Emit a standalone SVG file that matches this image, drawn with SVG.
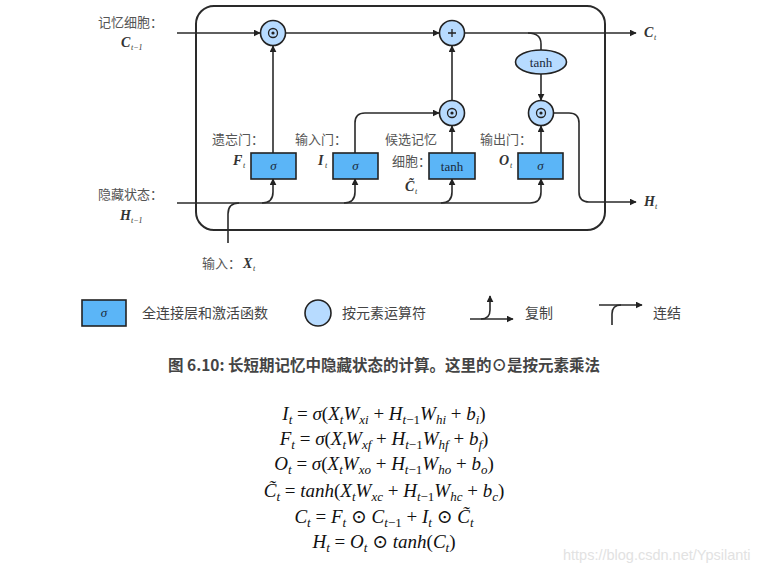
<svg xmlns="http://www.w3.org/2000/svg" width="777" height="573" viewBox="0 0 777 573">
<defs>
<marker id="ar" viewBox="0 0 10 10" refX="9" refY="5" markerWidth="7" markerHeight="7" markerUnits="userSpaceOnUse" orient="auto"><path d="M0,0 L10,5 L0,10 Z" fill="#222"/></marker>
<style>
.ln{fill:none;stroke:#2a2a2a;stroke-width:1.6}
.la{fill:none;stroke:#2a2a2a;stroke-width:1.6;marker-end:url(#ar)}
.box{fill:#5bb5f7;stroke:#222;stroke-width:1.6}
.op{fill:#b7dbff;stroke:#222;stroke-width:1.6}
.cn{font-family:"Noto Sans CJK SC","Noto Sans",sans-serif;font-size:13px;fill:#555}
.lg{font-family:"Noto Sans CJK SC","Noto Sans",sans-serif;font-size:14px;fill:#444}
.v{font-family:"Liberation Serif",serif;font-style:italic;font-weight:bold;font-size:14px;fill:#333}
.vs{font-family:"Liberation Serif",serif;font-style:italic;font-size:8px;fill:#333}
.bt{font-family:"Liberation Serif",serif;font-size:13px;fill:#1a2a3a;text-anchor:middle}
.sg{font-family:"Liberation Serif",serif;font-style:italic;font-size:13px;fill:#1a2a3a;text-anchor:middle}
.eq{font-family:"Liberation Serif","DejaVu Serif",serif;font-size:19px;fill:#111;text-anchor:middle}
.i{font-style:italic}
.s{font-size:13px}
.cap{font-family:"Noto Sans CJK SC",sans-serif;font-size:15.5px;font-weight:bold;fill:#444;text-anchor:middle}
</style>
</defs>
<rect x="0" y="0" width="777" height="573" fill="#fff"/>

<g id="frame"><rect x="196" y="6" width="409" height="224" rx="18" fill="none" stroke="#2a2a2a" stroke-width="2"/></g>

<g id="connectors">
<path class="la" d="M177,33 H260"/>
<path class="la" d="M286,33 H439"/>
<path class="la" d="M465,33 H636"/>
<path class="ln" d="M528,33 Q541,33 541,44 V50"/>
<path class="la" d="M541,74 V100"/>
<path class="la" d="M554,113 H569 Q579,113 579,123 V192 Q579,202 589,202 H636"/>
<path class="la" d="M273,153 V46"/>
<path class="la" d="M355,153 V123 Q355,113 365,113 H439"/>
<path class="la" d="M452,153 V126"/>
<path class="la" d="M452,100 V46"/>
<path class="la" d="M541,153 V126"/>
<path class="ln" d="M177,203 H530"/>
<path class="la" d="M530,203 Q541,203 541,192 V179"/>
<path class="la" d="M262,203 Q273,203 273,192 V179"/>
<path class="la" d="M344,203 Q355,203 355,192 V179"/>
<path class="la" d="M441,203 Q452,203 452,192 V179"/>
<path class="ln" d="M228,243 V214 Q228,203 239,203"/>
</g>

<g id="mul_forget"><circle class="op" cx="273" cy="33" r="12.5"/><circle cx="273" cy="33" r="4.5" fill="none" stroke="#222" stroke-width="1.3"/><circle cx="273" cy="33" r="1.6" fill="#222"/></g>
<g id="plus"><circle class="op" cx="452" cy="33" r="12.5"/><path d="M448,33 H456 M452,29 V37" stroke="#222" stroke-width="1.3"/></g>
<g id="mul_input"><circle class="op" cx="452" cy="113" r="12.5"/><circle cx="452" cy="113" r="4.5" fill="none" stroke="#222" stroke-width="1.3"/><circle cx="452" cy="113" r="1.6" fill="#222"/></g>
<g id="mul_output"><circle class="op" cx="541" cy="113" r="12.5"/><circle cx="541" cy="113" r="4.5" fill="none" stroke="#222" stroke-width="1.3"/><circle cx="541" cy="113" r="1.6" fill="#222"/></g>
<g id="tanh_op"><ellipse class="op" cx="541" cy="62" rx="25.5" ry="12"/><text class="bt" x="541" y="66.5">tanh</text></g>

<g id="gate_forget"><rect class="box" x="251" y="153" width="45" height="26"/><text class="sg" x="273.5" y="170">σ</text></g>
<g id="gate_input"><rect class="box" x="333" y="153" width="45" height="26"/><text class="sg" x="355.5" y="170">σ</text></g>
<g id="gate_cand"><rect class="box" x="429" y="153" width="46" height="26"/><text class="bt" x="452" y="170.5">tanh</text></g>
<g id="gate_output"><rect class="box" x="518" y="153" width="45" height="26"/><text class="sg" x="540.5" y="170">σ</text></g>

<g id="labels">
<text class="cn" x="98" y="27">记忆细胞：</text>
<text class="v" x="121" y="47">C</text><text class="vs" x="131" y="50">t−1</text>
<text class="cn" x="98" y="199">隐藏状态：</text>
<text class="v" x="120" y="220">H</text><text class="vs" x="131" y="223">t−1</text>
<text class="cn" x="212" y="144">遗忘门：</text>
<text class="v" x="233" y="165">F</text><text class="vs" x="243" y="168">t</text>
<text class="cn" x="295" y="144">输入门：</text>
<text class="v" x="318" y="165">I</text><text class="vs" x="325" y="168">t</text>
<text class="cn" x="385" y="144">候选记忆</text>
<text class="cn" x="392" y="166">细胞：</text>
<text class="v" x="405" y="191">C̃</text><text class="vs" x="415" y="194">t</text>
<text class="cn" x="480" y="144">输出门：</text>
<text class="v" x="499" y="165">O</text><text class="vs" x="510" y="168">t</text>
<text class="cn" x="202" y="268">输入：</text>
<text class="v" x="243" y="268">X</text><text class="vs" x="253" y="271">t</text>
<text class="v" x="644" y="37">C</text><text class="vs" x="654" y="40">t</text>
<text class="v" x="644" y="206">H</text><text class="vs" x="655" y="209">t</text>
</g>

<g id="legend">
<rect class="box" x="82" y="300" width="44" height="26"/><text class="sg" x="104" y="317">σ</text>
<text class="lg" x="142" y="318">全连接层和激活函数</text>
<circle class="op" cx="318" cy="313" r="13"/>
<text class="lg" x="342" y="318">按元素运算符</text>
<path class="la" d="M470,319 H513"/>
<path class="la" d="M481,319 Q490,319 490,310 V296"/>
<text class="lg" x="525" y="318">复制</text>
<path class="la" d="M599,305 H642"/>
<path class="ln" d="M612,325 V314 Q612,305 621,305"/>
<text class="lg" x="653" y="318">连结</text>
</g>

<text class="cap" x="384" y="371">图 6.10: 长短期记忆中隐藏状态的计算。这里的⊙是按元素乘法</text>

<g id="equations">
<text class="eq" x="384" y="420"><tspan class="i">I</tspan><tspan class="i s" dy="4">t</tspan><tspan dy="-4"> = </tspan><tspan class="i">σ</tspan><tspan>(</tspan><tspan class="i">X</tspan><tspan class="i s" dy="4">t</tspan><tspan class="i" dy="-4">W</tspan><tspan class="i s" dy="4">xi</tspan><tspan dy="-4"> + </tspan><tspan class="i">H</tspan><tspan class="s" dy="4"><tspan class="i">t</tspan>−1</tspan><tspan class="i" dy="-4">W</tspan><tspan class="i s" dy="4">hi</tspan><tspan dy="-4"> + </tspan><tspan class="i">b</tspan><tspan class="i s" dy="4">i</tspan><tspan dy="-4">)</tspan></text>
<text class="eq" x="384" y="445"><tspan class="i">F</tspan><tspan class="i s" dy="4">t</tspan><tspan dy="-4"> = </tspan><tspan class="i">σ</tspan><tspan>(</tspan><tspan class="i">X</tspan><tspan class="i s" dy="4">t</tspan><tspan class="i" dy="-4">W</tspan><tspan class="i s" dy="4">xf</tspan><tspan dy="-4"> + </tspan><tspan class="i">H</tspan><tspan class="s" dy="4"><tspan class="i">t</tspan>−1</tspan><tspan class="i" dy="-4">W</tspan><tspan class="i s" dy="4">hf</tspan><tspan dy="-4"> + </tspan><tspan class="i">b</tspan><tspan class="i s" dy="4">f</tspan><tspan dy="-4">)</tspan></text>
<text class="eq" x="384" y="470"><tspan class="i">O</tspan><tspan class="i s" dy="4">t</tspan><tspan dy="-4"> = </tspan><tspan class="i">σ</tspan><tspan>(</tspan><tspan class="i">X</tspan><tspan class="i s" dy="4">t</tspan><tspan class="i" dy="-4">W</tspan><tspan class="i s" dy="4">xo</tspan><tspan dy="-4"> + </tspan><tspan class="i">H</tspan><tspan class="s" dy="4"><tspan class="i">t</tspan>−1</tspan><tspan class="i" dy="-4">W</tspan><tspan class="i s" dy="4">ho</tspan><tspan dy="-4"> + </tspan><tspan class="i">b</tspan><tspan class="i s" dy="4">o</tspan><tspan dy="-4">)</tspan></text>
<text class="eq" x="384" y="497"><tspan class="i">C̃</tspan><tspan class="i s" dy="4">t</tspan><tspan dy="-4"> = </tspan><tspan class="i">tanh</tspan><tspan>(</tspan><tspan class="i">X</tspan><tspan class="i s" dy="4">t</tspan><tspan class="i" dy="-4">W</tspan><tspan class="i s" dy="4">xc</tspan><tspan dy="-4"> + </tspan><tspan class="i">H</tspan><tspan class="s" dy="4"><tspan class="i">t</tspan>−1</tspan><tspan class="i" dy="-4">W</tspan><tspan class="i s" dy="4">hc</tspan><tspan dy="-4"> + </tspan><tspan class="i">b</tspan><tspan class="i s" dy="4">c</tspan><tspan dy="-4">)</tspan></text>
<text class="eq" x="384" y="523"><tspan class="i">C</tspan><tspan class="i s" dy="4">t</tspan><tspan dy="-4"> = </tspan><tspan class="i">F</tspan><tspan class="i s" dy="4">t</tspan><tspan dy="-4"> ⊙ </tspan><tspan class="i">C</tspan><tspan class="s" dy="4"><tspan class="i">t</tspan>−1</tspan><tspan dy="-4"> + </tspan><tspan class="i">I</tspan><tspan class="i s" dy="4">t</tspan><tspan dy="-4"> ⊙ </tspan><tspan class="i">C̃</tspan><tspan class="i s" dy="4">t</tspan></text>
<text class="eq" x="384" y="548"><tspan class="i">H</tspan><tspan class="i s" dy="4">t</tspan><tspan dy="-4"> = </tspan><tspan class="i">O</tspan><tspan class="i s" dy="4">t</tspan><tspan dy="-4"> ⊙ </tspan><tspan class="i">tanh</tspan><tspan>(</tspan><tspan class="i">C</tspan><tspan class="i s" dy="4">t</tspan><tspan dy="-4">)</tspan></text>
</g>

<text x="563" y="560" font-family="Liberation Sans,sans-serif" font-size="14.5" fill="#e2e2e2">https://blog.csdn.net/Ypsilanti</text>
</svg>
